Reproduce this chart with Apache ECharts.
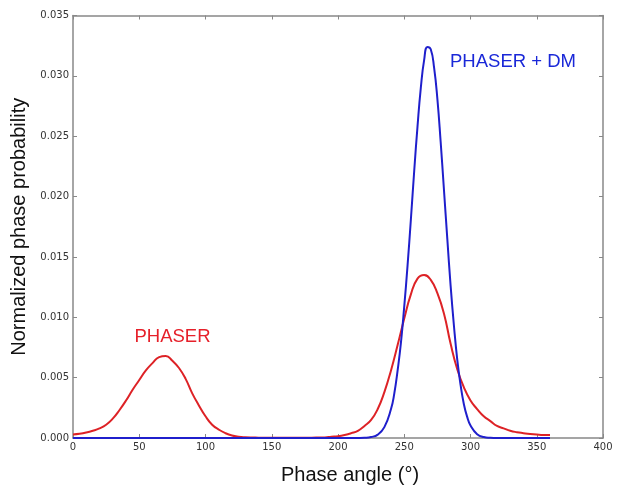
<!DOCTYPE html>
<html>
<head>
<meta charset="utf-8">
<script src="https://cdn.jsdelivr.net/npm/echarts@6/dist/echarts.min.js"></script>
<style>html,body{margin:0;padding:0;background:#fff}#c{width:624px;height:494px}</style>
</head>
<body>
<div id="c"></div>
<script>
// PHASER (red)
var phaserAngle = [0,5,10,15,20,25,30,35,40,45,50,55,60,65,70,75,80,85,90,95,100,105,110,115,120,125,130,140,150,160,170,180,190,195,200,205,210,215,220,225,230,235,240,245,250,255,260,265,270,275,280,285,290,295,300,305,310,315,320,325,330,335,340,345,350,355,360];
var phaserProb = [0.0003,0.00035,0.00045,0.0006,0.0008,0.0011,0.0016,0.0023,0.0031,0.0040,0.0048,0.0056,0.0062,0.0067,0.0068,0.0064,0.0058,0.0049,0.0037,0.0027,0.0018,0.0011,0.0007,0.0004,0.0002,0.0001,0.00006,0.00003,0.00002,0.00002,0.00002,0.00003,0.00005,0.0001,0.00015,0.00025,0.0004,0.0006,0.0010,0.0015,0.0024,0.0038,0.0056,0.0077,0.0099,0.0119,0.0132,0.0135,0.0131,0.0120,0.0103,0.0078,0.0057,0.0042,0.0031,0.0024,0.0018,0.0014,0.0010,0.0008,0.0006,0.00048,0.0004,0.00033,0.00028,0.00025,0.00025];
// PHASER + DM (blue)
var dmAngle = [0,50,100,150,200,210,215,220,225,230,235,240,242.5,245,247.5,250,252.5,255,257.5,260,262.5,265,267.5,270,272.5,275,277.5,280,282.5,285,287.5,290,292.5,295,297.5,300,305,310,315,320,330,360];
var dmProb = [0,0,0,0,0,0.000001,0.000005,0.00002,0.00008,0.00028,0.0009,0.0024,0.0037,0.0056,0.0079,0.0109,0.0143,0.0181,0.0221,0.0258,0.0290,0.0313,0.0324,0.0322,0.0307,0.0281,0.0245,0.0205,0.0165,0.0126,0.0093,0.0065,0.0044,0.0028,0.00175,0.00104,0.00032,0.00008,0.00002,0,0,0];
// axes
var xMin = 0, xMax = 400, xStep = 50;
var yMin = 0, yMax = 0.035, yStep = 0.005;
var xTitle = 'Phase angle (°)';
var yTitle = 'Normalized phase probability';
var label1 = 'PHASER';
var label2 = 'PHASER + DM';

function zip(a, b) { return a.map(function (v, i) { return [v, b[i]]; }); }

var chart = echarts.init(document.getElementById('c'), null, {renderer: 'canvas'});
var tickLabel = {color: '#333', fontFamily: 'DejaVu Sans', fontSize: 10};
var frameLine = {show: true, onZero: false, lineStyle: {color: '#888', width: 1.5}};
var tick = {show: true, inside: true, length: 4, lineStyle: {color: '#888', width: 1}};
chart.setOption({
  animation: false,
  backgroundColor: '#fff',
  grid: {left: 73, right: 21, top: 15.5, bottom: 56, containLabel: false},
  xAxis: [{
    type: 'value', gridIndex: 0, min: xMin, max: xMax, interval: xStep, position: 'bottom',
    axisLine: frameLine, axisTick: tick, splitLine: {show: false},
    axisLabel: Object.assign({margin: 4}, tickLabel),
    name: xTitle, nameLocation: 'middle', nameGap: 27,
    nameTextStyle: {fontFamily: 'Liberation Sans', fontSize: 20, color: '#111', padding: [0, 0, 0, 24]}
  }, {
    type: 'value', gridIndex: 0, min: xMin, max: xMax, interval: xStep, position: 'top',
    axisLine: frameLine, axisTick: tick, splitLine: {show: false}, axisLabel: {show: false}
  }],
  yAxis: [{
    type: 'value', gridIndex: 0, min: yMin, max: yMax, interval: yStep, position: 'left',
    axisLine: frameLine, axisTick: tick, splitLine: {show: false},
    axisLabel: Object.assign({margin: 4, formatter: function (v) { return v.toFixed(3); }}, tickLabel),
    name: yTitle, nameLocation: 'middle', nameGap: 44,
    nameTextStyle: {fontFamily: 'Liberation Sans', fontSize: 20, color: '#111'}
  }, {
    type: 'value', gridIndex: 0, min: yMin, max: yMax, interval: yStep, position: 'right',
    axisLine: frameLine, axisTick: tick, splitLine: {show: false}, axisLabel: {show: false}
  }],
  series: [{
    name: label1, type: 'line', data: zip(phaserAngle, phaserProb),
    xAxisIndex: 0, yAxisIndex: 0,
    smooth: 0.5, showSymbol: false,
    lineStyle: {color: '#dd2226', width: 2}, z: 3
  }, {
    name: label2, type: 'line', data: zip(dmAngle, dmProb),
    xAxisIndex: 0, yAxisIndex: 0,
    smooth: 0.5, showSymbol: false,
    lineStyle: {color: '#1f1fcc', width: 2}, z: 4
  }, {
    name: 'frame', type: 'line', data: [], xAxisIndex: 1, yAxisIndex: 1,
    showSymbol: false, silent: true
  }],
  graphic: [{
    type: 'text', x: 172.5, y: 337,
    style: {text: label1, fill: '#e6202a', font: '18.5px "Liberation Sans"', textAlign: 'center', textVerticalAlign: 'middle'}
  }, {
    type: 'text', x: 513, y: 61.5,
    style: {text: label2, fill: '#1a28d8', font: '18.5px "Liberation Sans"', textAlign: 'center', textVerticalAlign: 'middle'}
  }]
});
</script>
</body>
</html>
